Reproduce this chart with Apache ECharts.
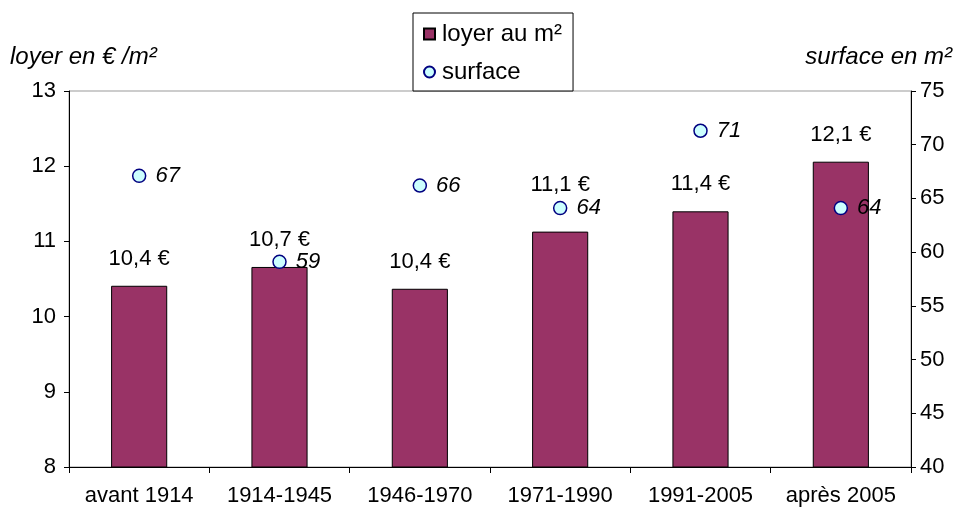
<!DOCTYPE html>
<html>
<head>
<meta charset="utf-8">
<script src="https://cdn.jsdelivr.net/npm/echarts@6/dist/echarts.min.js"></script>
<style>
  html, body { margin: 0; padding: 0; background: #fff; }
  #chart { width: 961px; height: 507px; }
</style>
</head>
<body>
<div id="chart"></div>
<script>
// periodes de construction
var categories = ['avant 1914', '1914-1945', '1946-1970', '1971-1990', '1991-2005', 'après 2005'];
// loyer au m2 (axe gauche)
var loyer = [10.41, 10.66, 10.37, 11.13, 11.4, 12.06];
// surface en m2 (axe droit)
var surface = [67.1, 59.1, 66.2, 64.1, 71.3, 64.1];
var leftTicks = [8, 13, 1];
var rightTicks = [40, 75, 5];

var chart = echarts.init(document.getElementById('chart'));
var font = 'Liberation Sans, Arial, sans-serif';

// the 1971-1990 label sits higher so the point label doesn't cover it
var loyerData = loyer.map(function (v, i) {
    return i === 3 ? { value: v, label: { distance: 36 } } : v;
});

var option = {
    backgroundColor: '#fff',
    textStyle: { fontFamily: font, color: '#000' },
    animation: false,
    grid: {
        left: 69, right: 50, top: 91, bottom: 40,
        show: true, borderColor: '#999', borderWidth: 1
    },
    legend: {
        orient: 'vertical',
        left: 413, top: 13,
        padding: [9, 11, 7, 10],
        itemGap: 14,
        itemWidth: 11, itemHeight: 11,
        backgroundColor: '#fff',
        borderColor: '#000', borderWidth: 1,
        textStyle: { fontSize: 24, color: '#000', fontFamily: font, padding: [0, 0, 0, 2] },
        data: [
            { name: 'loyer au m²', icon: 'rect' },
            { name: 'surface', icon: 'circle' }
        ]
    },
    graphic: [
        { type: 'text', left: 10, top: 45, style: { text: 'loyer en € /m²', font: 'italic 24px ' + font, fill: '#000' } },
        { type: 'text', right: 9, top: 45, style: { text: 'surface en m²', font: 'italic 24px ' + font, fill: '#000' } }
    ],
    xAxis: {
        type: 'category',
        data: categories,
        axisLine: { lineStyle: { color: '#000', width: 1 } },
        axisTick: { show: true, interval: 0, length: 6, lineStyle: { color: '#000' } },
        axisLabel: { interval: 0, fontSize: 22, color: '#000', margin: 18 }
    },
    yAxis: [
        {
            type: 'value',
            min: leftTicks[0], max: leftTicks[1], interval: leftTicks[2],
            axisLine: { show: true, lineStyle: { color: '#000' } },
            axisTick: { show: true, length: 5, lineStyle: { color: '#000' } },
            axisLabel: { fontSize: 22, color: '#000', margin: 13 },
            splitLine: { show: false }
        },
        {
            type: 'value',
            position: 'right',
            min: rightTicks[0], max: rightTicks[1], interval: rightTicks[2],
            axisLine: { show: true, lineStyle: { color: '#000' } },
            axisTick: { show: true, length: 5, lineStyle: { color: '#000' } },
            axisLabel: { fontSize: 22, color: '#000', margin: 9 },
            splitLine: { show: false }
        }
    ],
    series: [
        {
            name: 'loyer au m²',
            type: 'bar',
            yAxisIndex: 0,
            barWidth: '40%',
            itemStyle: { color: '#993366', borderColor: '#000', borderWidth: 1 },
            label: {
                show: true,
                position: 'top',
                distance: 16,
                fontSize: 22,
                color: '#000',
                formatter: function (p) {
                    return p.value.toFixed(1).replace('.', ',') + ' €';
                }
            },
            data: loyerData
        },
        {
            name: 'surface',
            type: 'scatter',
            yAxisIndex: 1,
            symbol: 'circle',
            symbolSize: 13,
            z: 5,
            itemStyle: { color: '#ccffff', borderColor: '#000080', borderWidth: 1.5, opacity: 1 },
            label: {
                show: true,
                position: 'right',
                distance: 9,
                fontSize: 22,
                fontStyle: 'italic',
                color: '#000',
                formatter: function (p) {
                    return Math.round(p.value);
                }
            },
            data: surface
        }
    ]
};

chart.setOption(option);
</script>
</body>
</html>
